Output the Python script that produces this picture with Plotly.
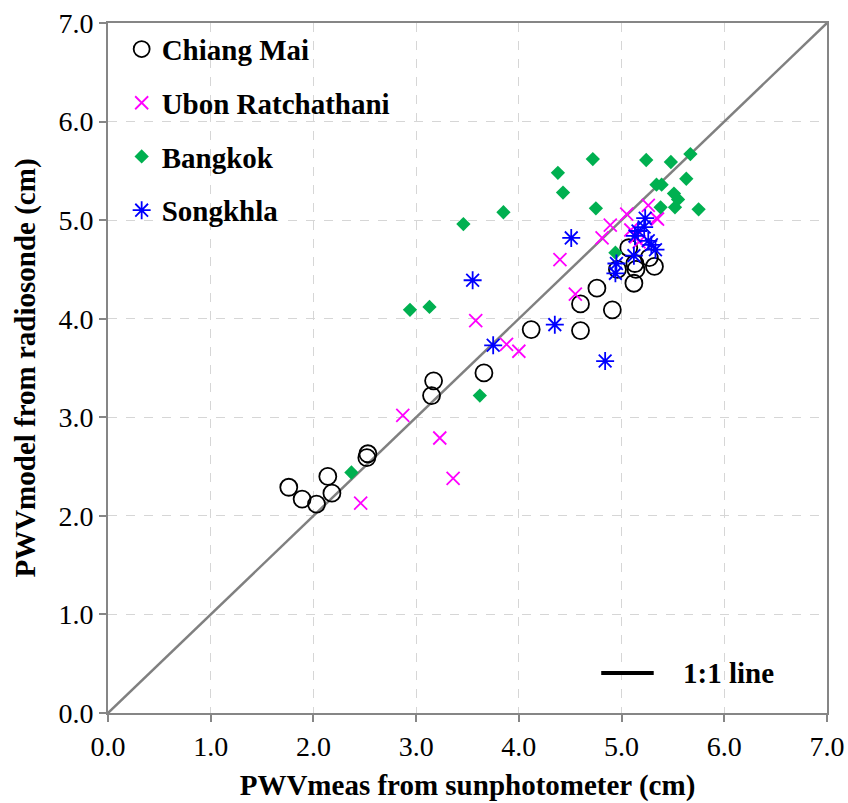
import plotly.graph_objects as go

# ---------------- data ----------------
cm_x = [1.76, 1.89, 2.03, 2.14, 2.18, 2.52, 2.53, 3.15, 3.17, 3.66, 4.12, 4.60, 4.60, 4.76, 4.91,
        4.96, 5.07, 5.13, 5.14, 5.12, 5.27, 5.32]
cm_y = [2.29, 2.17, 2.12, 2.40, 2.23, 2.59, 2.63, 3.22, 3.37, 3.45, 3.89, 3.88, 4.15, 4.31, 4.09,
        4.50, 4.72, 4.56, 4.50, 4.36, 4.62, 4.53]

ub_x = [2.87, 3.23, 3.36, 2.46, 3.58, 3.88, 4.00, 4.55, 4.40, 4.81, 4.89, 5.05, 5.26, 5.34,
        5.09, 5.14, 5.17, 5.35]
ub_y = [3.02, 2.79, 2.38, 2.13, 3.98, 3.74, 3.67, 4.25, 4.60, 4.82, 4.95, 5.06, 5.15, 5.02,
        4.90, 4.83, 4.78, 5.01]

bk_x = [2.37, 2.94, 3.13, 3.62, 3.46, 3.85, 4.38, 4.43, 4.72, 4.75, 5.24, 5.48, 5.67, 5.63,
        5.34, 5.39, 5.51, 5.55, 5.52, 5.38, 5.75, 4.94]
bk_y = [2.44, 4.09, 4.12, 3.22, 4.96, 5.08, 5.48, 5.28, 5.62, 5.12, 5.61, 5.59, 5.67, 5.42,
        5.36, 5.36, 5.27, 5.21, 5.13, 5.13, 5.11, 4.67]

sk_x = [3.55, 3.75, 4.35, 4.84, 4.51, 4.95, 4.94, 5.12, 5.13, 5.16, 5.23, 5.22, 5.26, 5.29, 5.33]
sk_y = [4.39, 3.73, 3.94, 3.57, 4.82, 4.56, 4.46, 4.64, 4.84, 4.89, 5.02, 4.93, 4.79, 4.75, 4.70]

axis_min, axis_max = 0.0, 7.0
tick_vals = [0, 1, 2, 3, 4, 5, 6, 7]
tick_text = ["0.0", "1.0", "2.0", "3.0", "4.0", "5.0", "6.0", "7.0"]

x_title = "PWVmeas from sunphotometer (cm)"
y_title = "PWVmodel from radiosonde (cm)"

FONT = "Liberation Serif"

fig = go.Figure()

# 1:1 line
fig.add_trace(go.Scatter(x=[axis_min, axis_max], y=[axis_min, axis_max], mode="lines",
                         line=dict(color="#808080", width=2.5), showlegend=False,
                         hoverinfo="skip"))

fig.add_trace(go.Scatter(x=cm_x, y=cm_y, mode="markers", name="Chiang Mai", legendgroup="a",
                         marker=dict(symbol="circle-open", size=17, color="black",
                                     line=dict(width=1.8, color="black"))))
fig.add_trace(go.Scatter(x=ub_x, y=ub_y, mode="markers", name="Ubon Ratchathani", legendgroup="b",
                         marker=dict(symbol="x-thin-open", size=13, color="#ff00ff",
                                     line=dict(width=1.8, color="#ff00ff"))))
fig.add_trace(go.Scatter(x=bk_x, y=bk_y, mode="markers", name="Bangkok", legendgroup="c",
                         marker=dict(symbol="diamond", size=11, color="#00b050",
                                     line=dict(width=0))))
fig.add_trace(go.Scatter(x=sk_x, y=sk_y, mode="markers", name="Songkhla", legendgroup="d",
                         marker=dict(symbol="asterisk-open", size=15, color="#0000ff",
                                     line=dict(width=1.8, color="#0000ff"))))

axis_common = dict(
    range=[axis_min, axis_max], tickvals=tick_vals, ticktext=tick_text,
    showgrid=True, gridcolor="#d6d6d6", griddash="dash", gridwidth=1,
    showline=True, linecolor="#868686", linewidth=2, mirror=True,
    ticks="outside", ticklen=7, tickcolor="#868686", tickwidth=1.5,
    zeroline=False, tickfont=dict(family=FONT, size=28, color="black"),
)

fig.update_layout(
    width=848, height=803,
    margin=dict(l=108, r=21, t=23, b=90, autoexpand=False),
    paper_bgcolor="white", plot_bgcolor="white",
    xaxis=dict(**axis_common,
               title=dict(text=x_title, standoff=14,
                          font=dict(family=FONT, size=29, color="black", weight="bold"))),
    yaxis=dict(**axis_common,
               title=dict(text=y_title, standoff=14,
                          font=dict(family=FONT, size=29, color="black", weight="bold"))),
    legend=dict(x=0.019, y=0.999, xanchor="left", yanchor="top",
                bgcolor="rgba(0,0,0,0)", traceorder="grouped", tracegroupgap=13,
                font=dict(family=FONT, size=29, color="black", weight="bold"),
                itemwidth=30),
    showlegend=True,
)

# "1:1 line" key (bottom right)
fig.add_shape(type="line", xref="paper", yref="paper", x0=0.686, x1=0.759, y0=0.058, y1=0.058,
              line=dict(color="black", width=4))
fig.add_annotation(text="1:1 line", xref="paper", yref="paper", x=0.797, y=0.058,
                   xanchor="left", yanchor="middle", showarrow=False,
                   font=dict(family=FONT, size=29, color="black", weight="bold"))

fig.write_html("out.html")
